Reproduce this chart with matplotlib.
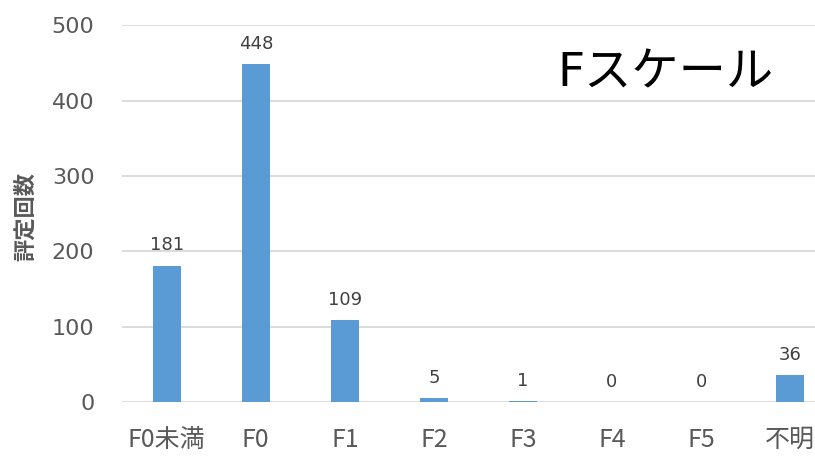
import matplotlib.pyplot as plt
import numpy as np

plt.rcParams['font.family'] = ['DejaVu Sans', 'Noto Sans CJK JP']

categories = ['F0未満', 'F0', 'F1', 'F2', 'F3', 'F4', 'F5', '不明']
counts = [181, 448, 109, 5, 1, 0, 0, 36]

fig = plt.figure(figsize=(8.15, 4.59), dpi=100)
ax = fig.add_axes([0.150, 0.124, 0.874, 0.821])

x = np.arange(len(categories))
ax.bar(x, counts, width=0.31, color='#5B9BD5', zorder=3)

for xi, v in zip(x, counts):
    ax.text(xi, v + 15, str(v), ha='center', va='bottom', fontsize=13, color='#404040')

ax.set_xlim(-0.5, len(categories) - 0.5)
ax.set_ylim(0, 500)
ax.set_yticks(range(0, 501, 100))
ax.set_xticks(x)
ax.set_xticklabels(categories, family=['Noto Sans CJK JP', 'DejaVu Sans'])
ax.tick_params(axis='y', length=0, labelsize=16, colors='#595959', pad=20)
ax.tick_params(axis='x', length=0, labelsize=18, colors='#595959', pad=18)
ax.grid(axis='y', color='#D9D9D9', linewidth=1.3, zorder=0)
for s in ax.spines.values():
    s.set_visible(False)

ax.set_ylabel('評定回数', fontsize=16, color='#595959', fontweight='bold',
              family=['Noto Sans CJK JP', 'DejaVu Sans'])
ax.yaxis.set_label_coords(-0.12, 0.493)

fig.text(0.817, 0.838, 'Fスケール', fontsize=34, ha='center', va='center', color='black')

fig.savefig('out.png', dpi=100)
